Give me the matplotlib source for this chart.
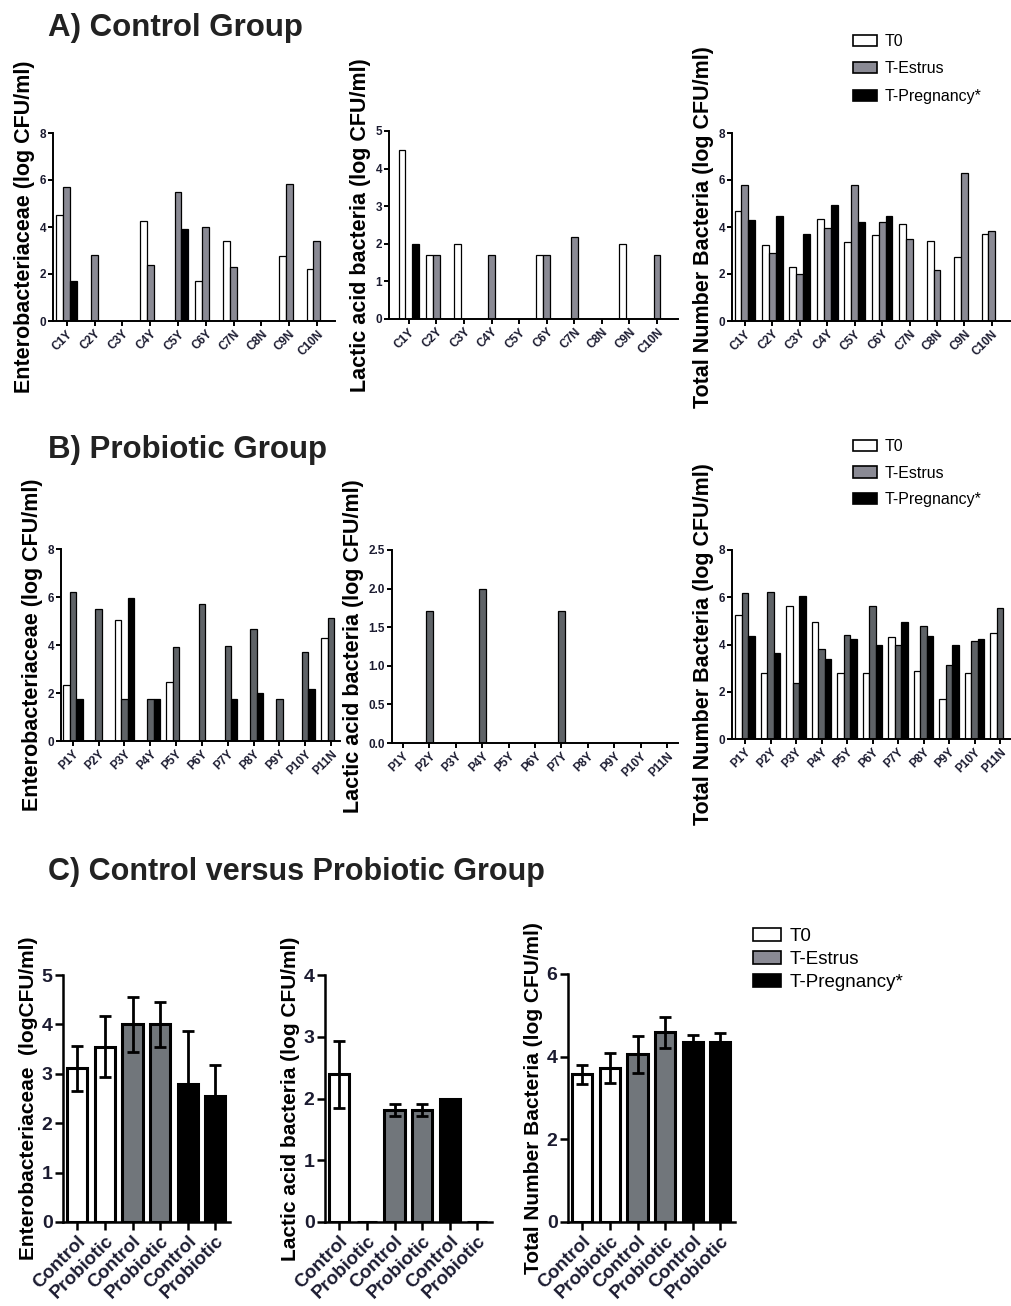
import numpy as np
import matplotlib
matplotlib.use("Agg")
import matplotlib.pyplot as plt
from matplotlib.patches import Patch
from matplotlib.ticker import FormatStrFormatter

plt.rcParams['font.family'] = ['Liberation Sans', 'DejaVu Sans']
plt.rcParams['font.weight'] = 'bold'

W, H = 1012, 1306

# --- дані: A) контрольна група ---
control_ids = ["C1Y", "C2Y", "C3Y", "C4Y", "C5Y", "C6Y", "C7N", "C8N", "C9N", "C10N"]
a_entero_t0 = [4.5, 0, 0, 4.25, 0, 1.7, 3.4, 0, 2.75, 2.2]
a_entero_estrus = [5.7, 2.8, 0, 2.4, 5.5, 4.0, 2.3, 0, 5.85, 3.4]
a_entero_preg = [1.7, 0, 0, 0, 3.9, 0, 0, 0, 0, 0]
a_lactic_t0 = [4.5, 1.7, 2.0, 0, 0, 1.7, 0, 0, 2.0, 0]
a_lactic_estrus = [0, 1.7, 0, 1.7, 0, 1.7, 2.17, 0, 0, 1.7]
a_lactic_preg = [2.0, 0, 0, 0, 0, 0, 0, 0, 0, 0]
a_total_t0 = [4.7, 3.25, 2.3, 4.35, 3.35, 3.65, 4.13, 3.4, 2.72, 3.7]
a_total_estrus = [5.8, 2.9, 2.0, 3.95, 5.8, 4.2, 3.5, 2.17, 6.3, 3.83]
a_total_preg = [4.3, 4.45, 3.7, 4.95, 4.2, 4.45, 0, 0, 0, 0]

# --- дані: B) пробіотична група ---
probiotic_ids = ["P1Y", "P2Y", "P3Y", "P4Y", "P5Y", "P6Y", "P7Y", "P8Y", "P9Y", "P10Y", "P11N"]
b_entero_t0 = [2.33, 0, 5.04, 0, 2.47, 0, 0, 0, 0, 0, 4.31]
b_entero_estrus = [6.22, 5.49, 1.74, 1.74, 3.9, 5.71, 3.97, 4.65, 1.74, 3.72, 5.14]
b_entero_preg = [1.74, 0, 5.97, 1.74, 0, 0, 1.74, 1.99, 0, 2.17, 0]
b_lactic_t0 = [0] * 11
b_lactic_estrus = [0, 1.71, 0, 1.99, 0, 0, 1.71, 0, 0, 0, 0]
b_lactic_preg = [0] * 11
b_total_t0 = [5.23, 2.79, 5.63, 4.97, 2.79, 2.79, 4.31, 2.86, 1.69, 2.79, 4.48]
b_total_estrus = [6.17, 6.24, 2.37, 3.8, 4.41, 5.63, 3.96, 4.8, 3.14, 4.13, 5.56]
b_total_preg = [4.34, 3.63, 6.07, 3.38, 4.23, 3.96, 4.97, 4.34, 3.96, 4.23, 0]

# --- дані: C) середні значення ± похибка ---
c_groups = ["Control", "Probiotic", "Control", "Probiotic", "Control", "Probiotic"]
c_entero = [3.11, 3.55, 4.0, 4.0, 2.79, 2.55]
c_entero_err = [0.45, 0.62, 0.55, 0.46, 1.07, 0.62]
c_lactic = [2.39, 0, 1.81, 1.81, 2.0, 0]
c_lactic_err = [0.54, 0, 0.1, 0.1, 0, 0]
c_total = [3.58, 3.73, 4.06, 4.59, 4.35, 4.35]
c_total_err = [0.23, 0.37, 0.45, 0.37, 0.17, 0.22]

series_names = ["T0", "T-Estrus", "T-Pregnancy*"]
tick_color = '#1b1b30'


def add_ax(fig, left, right, top, bottom):
    # координати в пікселях -> частки фігури
    return fig.add_axes([left / W, 1 - bottom / H, (right - left) / W, (bottom - top) / H])


def style_ax(ax, lw, ticklen, fs):
    for s in ['top', 'right']:
        ax.spines[s].set_visible(False)
    for s in ['left', 'bottom']:
        ax.spines[s].set_linewidth(lw)
    ax.tick_params(width=lw, length=ticklen, labelsize=fs, colors='black',
                   labelcolor=tick_color, pad=1.5)


def group_panel(ax, labels, t0, estrus, preg, gray, ylim, yticks, ylabel, xlim):
    x = np.arange(len(labels))
    w = 0.25
    colors = ['white', gray, 'black']
    for k, vals in enumerate([t0, estrus, preg]):
        ax.bar(x + (k - 1) * w, vals, w, color=colors[k], edgecolor='black', linewidth=0.9)
    ax.set_xticks(x)
    ax.set_xticklabels(labels, rotation=45, ha='right', rotation_mode='anchor', fontweight='bold')
    ax.set_xlim(*xlim)
    ax.set_ylim(*ylim)
    ax.set_yticks(yticks)
    ax.set_ylabel(ylabel, fontsize=15.5, fontweight='bold', labelpad=3)
    style_ax(ax, 1.4, 3.5, 8.5)


def mean_panel(ax, vals, errs, ylim, yticks, ylabel):
    x = np.arange(len(c_groups))
    colors = ['white', 'white', '#71767b', '#71767b', 'black', 'black']
    ax.bar(x, vals, 0.73, color=colors, edgecolor='black', linewidth=2.2)
    errs = np.array(errs)
    m = errs > 0
    ax.errorbar(x[m], np.array(vals)[m], yerr=errs[m], fmt='none', ecolor='black',
                elinewidth=2.0, capsize=4.5, capthick=2.0)
    ax.set_xticks(x)
    ax.set_xticklabels(c_groups, rotation=45, ha='right', rotation_mode='anchor',
                       fontweight='bold')
    ax.set_xlim(-0.52, 5.53)
    ax.set_ylim(*ylim)
    ax.set_yticks(yticks)
    ax.set_ylabel(ylabel, fontsize=15, fontweight='bold', labelpad=3)
    style_ax(ax, 1.8, 6, 14)
    ax.tick_params(axis='x', labelsize=13.5)


def add_legend(fig, x, y, gray, fs, spacing):
    handles = [Patch(facecolor=c, edgecolor='black', linewidth=1.2)
               for c in ['white', gray, 'black']]
    fig.legend(handles, series_names, loc='upper left', bbox_to_anchor=(x / W, 1 - y / H),
               frameon=False, handlelength=1.5, handleheight=0.7,
               handletextpad=0.45, labelspacing=spacing, borderpad=0, borderaxespad=0,
               prop={'weight': 'normal', 'size': fs})


fig = plt.figure(figsize=(W / 100, H / 100), dpi=100)

# A) Control Group
fig.text(48 / W, 1 - 28 / H, "A) Control Group", fontsize=22.5, fontweight='bold',
         va='center', color='#222222')
ax = add_ax(fig, 53, 335, 133, 321)
group_panel(ax, control_ids, a_entero_t0, a_entero_estrus, a_entero_preg, '#8a8a94',
            (0, 8), [0, 2, 4, 6, 8], "Enterobacteriaceae (log CFU/ml)", (-0.5, 9.65))
ax = add_ax(fig, 389, 678, 131, 319)
group_panel(ax, control_ids, a_lactic_t0, a_lactic_estrus, a_lactic_preg, '#8a8a94',
            (0, 5), [0, 1, 2, 3, 4, 5], "Lactic acid bacteria (log CFU/ml)", (-0.72, 9.76))
ax = add_ax(fig, 732, 1010, 133, 321)
group_panel(ax, control_ids, a_total_t0, a_total_estrus, a_total_preg, '#8a8a94',
            (0, 8), [0, 2, 4, 6, 8], "Total Number Bacteria (log CFU/ml)", (-0.47, 9.66))
add_legend(fig, 853, 34, '#8a8a94', 11.5, 0.78)

# B) Probiotic Group
fig.text(48 / W, 1 - 450 / H, "B) Probiotic Group", fontsize=22.5, fontweight='bold',
         va='center', color='#222222')
ax = add_ax(fig, 61, 340, 549, 741)
group_panel(ax, probiotic_ids, b_entero_t0, b_entero_estrus, b_entero_preg, '#5f6367',
            (0, 8), [0, 2, 4, 6, 8], "Enterobacteriaceae (log CFU/ml)", (-0.46, 10.35))
ax = add_ax(fig, 392, 678, 550, 743)
group_panel(ax, probiotic_ids, b_lactic_t0, b_lactic_estrus, b_lactic_preg, '#5f6367',
            (0, 2.5), [0, 0.5, 1.0, 1.5, 2.0, 2.5], "Lactic acid bacteria (log CFU/ml)",
            (-0.42, 10.42))
ax.yaxis.set_major_formatter(FormatStrFormatter('%.1f'))
ax = add_ax(fig, 732, 1012, 550, 739)
group_panel(ax, probiotic_ids, b_total_t0, b_total_estrus, b_total_preg, '#5f6367',
            (0, 8), [0, 2, 4, 6, 8], "Total Number Bacteria (log CFU/ml)", (-0.51, 10.47))
add_legend(fig, 853, 439, '#8a8a94', 11.5, 0.72)

# C) Control versus Probiotic Group
fig.text(48 / W, 1 - 872 / H, "C) Control versus Probiotic Group", fontsize=22,
         fontweight='bold', va='center', color='#222222')
ax = add_ax(fig, 63, 230, 975, 1222)
mean_panel(ax, c_entero, c_entero_err, (0, 5), [0, 1, 2, 3, 4, 5],
           "Enterobacteriaceae  (logCFU/ml)")
ax = add_ax(fig, 325, 492, 975, 1222)
mean_panel(ax, c_lactic, c_lactic_err, (0, 4), [0, 1, 2, 3, 4],
           "Lactic acid bacteria (log CFU/ml)")
ax = add_ax(fig, 568, 735, 974, 1222)
mean_panel(ax, c_total, c_total_err, (0, 6), [0, 2, 4, 6],
           "Total Number Bacteria (log CFU/ml)")
add_legend(fig, 753, 928, '#8a8a94', 13.5, 0.3)

fig.savefig("out.png", dpi=100)
